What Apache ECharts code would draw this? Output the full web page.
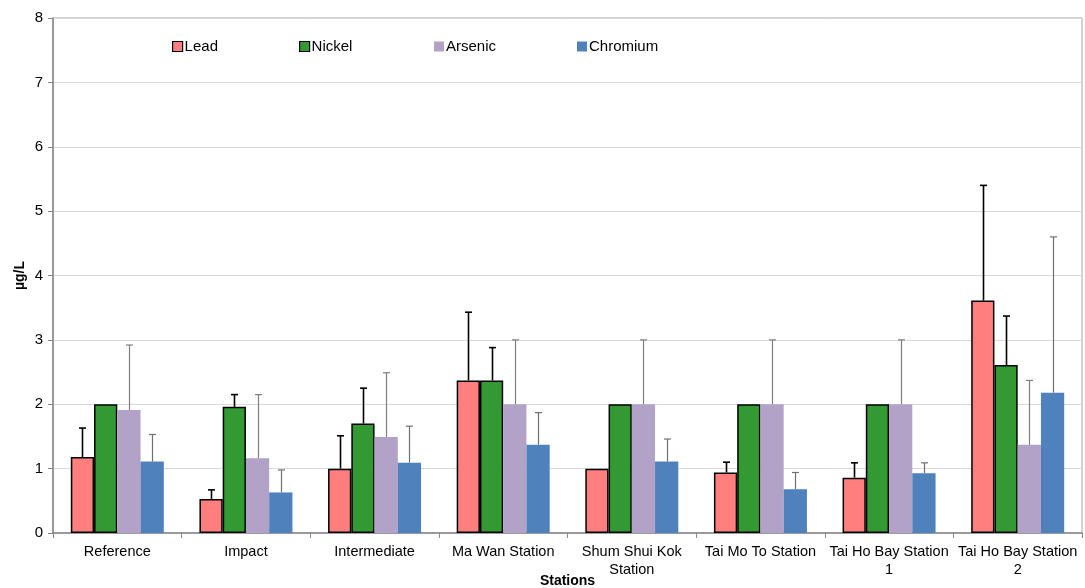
<!DOCTYPE html>
<html>
<head>
<meta charset="utf-8">
<script src="https://cdn.jsdelivr.net/npm/echarts@6/dist/echarts.min.js"></script>
<style>
html,body{margin:0;padding:0;background:#fff;}
#chart{width:1085px;height:588px;}
</style>
</head>
<body>
<div id="chart"></div>
<script>
const categories = ['Reference','Impact','Intermediate','Ma Wan Station','Shum Shui Kok\nStation','Tai Mo To Station','Tai Ho Bay Station\n1','Tai Ho Bay Station\n2'];
const yTicks = [0,1,2,3,4,5,6,7,8];
const seriesNames = ['Lead','Nickel','Arsenic','Chromium'];

const lead     = [1.18, 0.53, 1.00, 2.37, 1.00, 0.94, 0.86, 3.61];
const nickel   = [2.00, 1.96, 1.70, 2.37, 2.00, 2.00, 2.00, 2.61];
const arsenic  = [1.91, 1.16, 1.49, 2.00, 2.00, 2.00, 2.00, 1.37];
const chromium = [1.11, 0.63, 1.09, 1.37, 1.11, 0.68, 0.93, 2.18];

const leadErr     = [0.45, 0.14, 0.51, 1.06, null, 0.16, 0.23, 1.79];
const nickelErr   = [null, 0.19, 0.55, 0.51, null, null, null, 0.76];
const arsenicErr  = [1.01, 0.99, 1.00, 1.00, 1.00, 1.00, 1.00, 1.00];
const chromiumErr = [0.42, 0.35, 0.57, 0.50, 0.35, 0.26, 0.16, 2.42];

const colors = ['#FF7F7F','#339933','#B3A2C7','#4F81BD'];
const hasBorder = [true, true, false, false];
const errColors = ['#000000','#000000','#7F7F7F','#6F6F6F'];
const errWidths = [1.6, 1.6, 1.2, 1.2];
const CAT_GAP = 0.277;

const values = [lead, nickel, arsenic, chromium];
const errs = [leadErr, nickelErr, arsenicErr, chromiumErr];

const chart = echarts.init(document.getElementById('chart'));
const font = 'Liberation Sans, Arial, sans-serif';

const series = [];
values.forEach((vals, i) => {
  series.push({
    name: seriesNames[i],
    type: 'bar',
    data: vals,
    barGap: '0%',
    barCategoryGap: (CAT_GAP*100) + '%',
    itemStyle: {
      color: colors[i],
      borderColor: hasBorder[i] ? '#000' : colors[i],
      borderWidth: hasBorder[i] ? 1.5 : 0
    },
    z: 2
  });
});
values.forEach((vals, i) => {
  const data = [];
  vals.forEach((v, j) => {
    if (errs[i][j] != null) data.push([j, v, v + errs[i][j]]);
  });
  series.push({
    type: 'custom',
    name: seriesNames[i] + ' err',
    data: data,
    encode: {x: 0, y: [1, 2]},
    z: 5,
    silent: true,
    renderItem: function (params, api) {
      const c = api.value(0);
      const p0 = api.coord([c, api.value(1)]);
      const p1 = api.coord([c, api.value(2)]);
      const band = api.size([1, 0])[0];
      const bw = band * (1 - CAT_GAP) / 4;
      const x = Math.round(p0[0] + (i - 1.5) * bw) + 0.5;
      const cap = 3.5;
      const st = {stroke: errColors[i], lineWidth: errWidths[i]};
      return {
        type: 'group',
        children: [
          {type: 'line', shape: {x1: x, y1: p0[1], x2: x, y2: p1[1]}, style: st},
          {type: 'line', shape: {x1: x - cap, y1: p1[1], x2: x + cap, y2: p1[1]}, style: st}
        ]
      };
    }
  });
});

const legendLefts = [172, 299, 434, 577];
const legends = seriesNames.map((n, i) => ({
  data: [n],
  left: legendLefts[i],
  top: 39,
  padding: 0,
  itemWidth: 10,
  itemHeight: 10,
  itemGap: 4,
  icon: 'rect',
  textStyle: {fontFamily: font, fontSize: 15, color: '#000', padding: [0,0,0,-3]},
  itemStyle: hasBorder[i] ? {borderColor: '#000', borderWidth: 1.2} : {borderWidth: 0},
  selectedMode: false
}));

chart.setOption({
  animation: false,
  backgroundColor: '#fff',
  textStyle: {fontFamily: font},
  legend: legends,
  grid: {
    left: 53, right: 3, top: 18, bottom: 55,
    outerBoundsMode: 'none',
    containLabel: false,
    show: true, borderColor: '#A6A6A6', borderWidth: 1
  },
  xAxis: {
    type: 'category',
    data: categories,
    boundaryGap: true,
    name: 'Stations',
    nameLocation: 'middle',
    nameGap: 41,
    nameMoveOverlap: false,
    nameTextStyle: {fontFamily: font, fontSize: 14, fontWeight: 'bold', color: '#000'},
    axisLine: {lineStyle: {color: '#868686', width: 1.5}},
    axisTick: {show: true, alignWithLabel: false, length: 5, lineStyle: {color: '#868686'}},
    axisLabel: {interval: 0, fontFamily: font, fontSize: 14.5, color: '#000', margin: 10, lineHeight: 18}
  },
  yAxis: {
    type: 'value',
    min: yTicks[0],
    max: yTicks[yTicks.length - 1],
    interval: 1,
    name: 'µg/L',
    nameLocation: 'middle',
    nameRotate: 90,
    nameGap: 26,
    nameMoveOverlap: false,
    nameTextStyle: {fontFamily: font, fontSize: 14, fontWeight: 'bold', color: '#000'},
    axisLine: {show: true, lineStyle: {color: '#868686', width: 1.5}},
    axisTick: {show: true, length: 5, lineStyle: {color: '#868686'}},
    axisLabel: {fontFamily: font, fontSize: 15, color: '#000', margin: 10},
    splitLine: {show: true, lineStyle: {color: '#D9D9D9', width: 1}}
  },
  series: series
});
</script>
</body>
</html>
